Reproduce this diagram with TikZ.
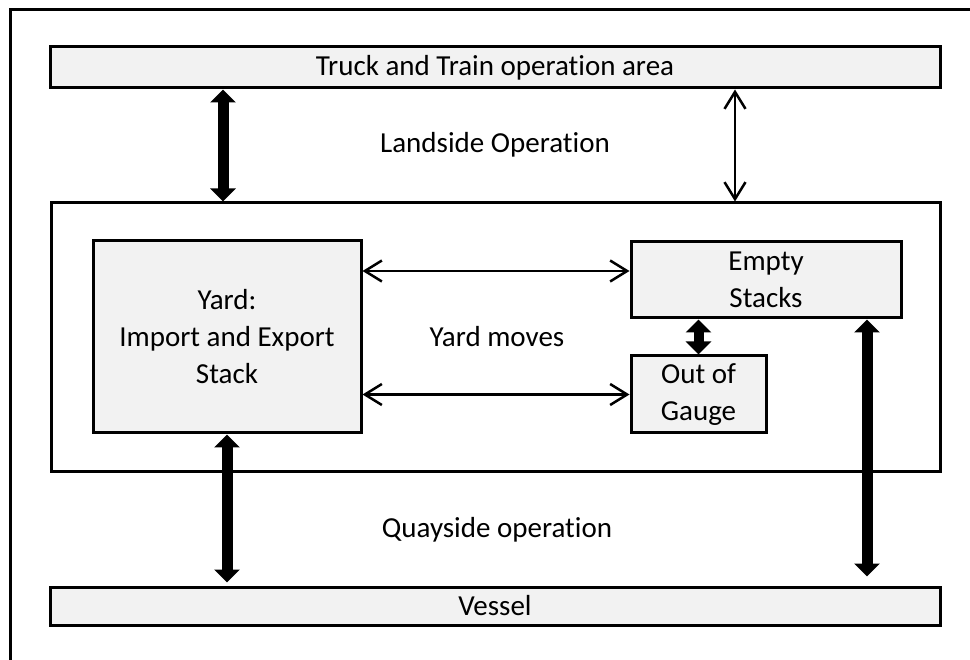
\documentclass[tikz,border=0pt]{standalone}
\usepackage{fontspec}
\setmainfont{Carlito}[RawFeature={-liga;-clig;-dlig;-calt}]
\usetikzlibrary{arrows.meta}

\tikzset{
  box/.style={draw=black, line width=3pt, fill=boxgray, inner sep=0pt,
    align=center, font=\fontsize{29}{37}\selectfont},
  label/.style={inner sep=0pt, font=\fontsize{29}{37}\selectfont},
  bigarrow/.style={line width=11pt,
    {Triangle[width=25pt,length=13pt]}-{Triangle[width=25pt,length=13pt]}},
  thinarrow/.style={line width=2.5pt,
    {Straight Barb[width=21pt,length=17pt]}-{Straight Barb[width=21pt,length=17pt]}}
}
\definecolor{boxgray}{HTML}{F2F2F2}

\begin{document}
\begin{tikzpicture}[x=1pt,y=-1pt]
  \useasboundingbox (0,0) rectangle (970,660);

  % outer frame (only its top and left edges lie inside the page)
  \draw[line width=3pt] (10,700) -- (10,10) -- (1000,10);

  % bars and boxes
  \node[box, minimum width=890pt, minimum height=41pt] (truck) at (495,67.5)
    {Truck and Train operation area};
  \node[draw=black, line width=3pt, minimum width=889pt, minimum height=268pt,
    inner sep=0pt] (terminal) at (495.5,337) {};
  \node[box, minimum width=268pt, minimum height=192pt] (yard) at (227,337)
    {Yard:\\Import and Export\\Stack};
  \node[box, minimum width=270pt, minimum height=76pt] (empty) at (766,280)
    {Empty\\Stacks};
  \node[box, minimum width=135pt, minimum height=77pt] (oog) at (698.5,394.5)
    {Out of\\Gauge};
  \node[box, minimum width=890pt, minimum height=38pt] (vessel) at (495,606)
    {Vessel};

  % free labels
  \node[label] (landside) at (495,145) {Landside Operation};
  \node[label] (yardmoves) at (497,337) {Yard moves};
  \node[label] (quayside) at (497,530) {Quayside operation};

  % helper coordinates for connector positions
  \coordinate (landx) at (735,0);
  \coordinate (movey) at (0,271);
  \coordinate (quayx) at (867,0);
  \coordinate (gatex) at (223,0);

  % landside connectors
  \draw[bigarrow] (truck.south -| gatex) -- (terminal.north -| gatex);
  \draw[thinarrow] (truck.south -| landx) -- (terminal.north -| landx);

  % yard moves
  \draw[thinarrow] (yard.east |- movey) -- (empty.west |- movey);
  \draw[thinarrow] (yard.east |- oog.west) -- (oog.west);
  \draw[bigarrow, line width=10pt] (empty.south -| oog.north) -- (oog.north);

  % quayside connectors
  \draw[bigarrow, shorten >=3pt] (yard.south) -- (vessel.north -| yard.south);
  \draw[bigarrow, shorten >=9pt] (empty.south -| quayx) -- (vessel.north -| quayx);
\end{tikzpicture}
\end{document}
